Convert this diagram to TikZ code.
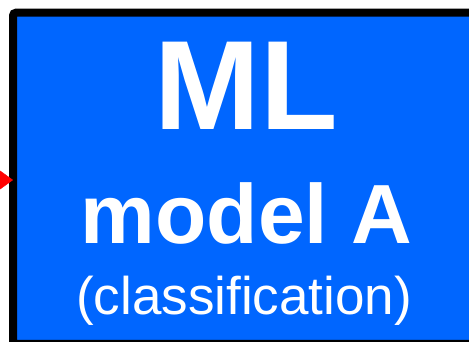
\documentclass[tikz,border=0pt]{standalone}
\usepackage{fontspec}
\setmainfont{Liberation Sans}
\usetikzlibrary{arrows.meta}
\definecolor{mlblue}{HTML}{0066FF}
\tikzset{
  mlbox/.style={draw=black, line width=8pt, fill=mlblue, rounded corners=3pt,
    inner sep=0pt, outer sep=0pt},
  mltext/.style={text=white, anchor=base, inner sep=0pt},
}
\begin{document}
\begin{tikzpicture}[x=1pt, y=1pt]
    \clip (0,0) rectangle (469,342);
    \node[mlbox, minimum width=472pt, minimum height=331.3pt] (box) at (249,163.65) {};
    \node[mltext, font=\fontsize{127}{127}\selectfont\bfseries] (ml) at (246,212) {ML};
    \node[mltext, font=\fontsize{84}{84}\selectfont\bfseries] (model) at (246.5,98.5) {model A};
    \node[mltext, font=\fontsize{53}{53}\selectfont] (task) at (244,27) {(classification)};
    % input coming in from the left
    \coordinate (in) at (-40,162);
    \draw [red, -{Triangle[length=18pt, width=26pt]}] (in) -- ([yshift=-1.65pt]box.west);
\end{tikzpicture}
\end{document}
